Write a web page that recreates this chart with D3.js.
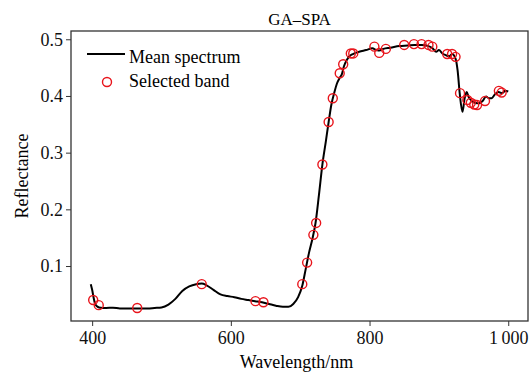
<!DOCTYPE html>
<html>
<head>
<meta charset="utf-8">
<script src="https://cdn.jsdelivr.net/npm/d3@7"></script>
<style>
  body { margin: 0; background: #fff; }
  svg { display: block; font-family: "Liberation Serif", "DejaVu Serif", serif; }
</style>
</head>
<body>
<svg width="529" height="372"></svg>
<script>
// mean spectrum (wavelength nm, reflectance)
const wavelengths = [398, 400, 402, 404, 407, 410, 420, 430, 440, 450, 460, 470, 480, 490, 500,
  510, 520, 530, 540, 550, 558, 565, 575, 585, 595, 605, 615, 625, 635, 645, 655, 665, 675, 683,
  690, 697, 703, 708, 713, 718, 722, 727, 732, 737, 741, 745, 749, 753, 757, 760, 763, 767, 771,
  776, 785, 795, 804, 810, 814, 820, 830, 843, 855, 865, 875, 885, 891, 896, 900, 905, 910, 915,
  919, 924, 927, 930, 934, 937, 940, 943, 947, 952, 958, 963, 968, 972, 976, 981, 986, 991, 996, 1000];
const reflectance = [0.068, 0.058, 0.045, 0.034, 0.029, 0.027, 0.026, 0.0265, 0.025, 0.025, 0.025,
  0.025, 0.025, 0.026, 0.027, 0.032, 0.042, 0.056, 0.064, 0.068, 0.069, 0.066, 0.058, 0.050, 0.047,
  0.045, 0.042, 0.040, 0.038, 0.036, 0.033, 0.030, 0.028, 0.028, 0.033, 0.045, 0.065, 0.095, 0.125,
  0.150, 0.175, 0.225, 0.279, 0.320, 0.354, 0.385, 0.405, 0.422, 0.432, 0.438, 0.452, 0.463, 0.470,
  0.474, 0.478, 0.481, 0.484, 0.481, 0.480, 0.483, 0.485, 0.488, 0.489, 0.490, 0.490, 0.488, 0.484,
  0.478, 0.481, 0.475, 0.472, 0.470, 0.474, 0.466, 0.445, 0.405, 0.372, 0.395, 0.407, 0.398, 0.392,
  0.388, 0.387, 0.391, 0.399, 0.396, 0.396, 0.403, 0.407, 0.405, 0.409, 0.408];

// bands picked by GA-SPA
const bandWl = [401.5, 409.5, 465, 558, 635.5, 647, 703, 710, 719, 723, 732, 741, 747, 757, 762,
  773, 776.5, 807, 814, 823.5, 850, 864, 875, 885, 890.5, 912, 919, 924, 930.5, 941, 946, 951,
  955, 966.5, 986.5, 990.5];
const bandR = [0.040, 0.031, 0.026, 0.068, 0.038, 0.036, 0.068, 0.106, 0.155, 0.176, 0.279, 0.354,
  0.396, 0.440, 0.456, 0.475, 0.475, 0.487, 0.476, 0.483, 0.490, 0.4915, 0.4915, 0.490, 0.487,
  0.474, 0.474, 0.469, 0.405, 0.393, 0.388, 0.385, 0.384, 0.391, 0.409, 0.406];

const xTicks = [400, 600, 800, 1000];
const yTicks = [0.1, 0.2, 0.3, 0.4, 0.5];

const margin = {top: 31, right: 1, bottom: 51, left: 71},
    width = 529 - margin.left - margin.right,
    height = 372 - margin.top - margin.bottom;

const svg = d3.select("svg");
const g = svg.append("g")
    .attr("transform", "translate(" + margin.left + "," + margin.top + ")");

const x = d3.scaleLinear().domain([369.5, 1028.5]).range([0, width]);
const y = d3.scaleLinear().domain([0.003, 0.5146]).range([height, 0]);

// axes
const xAxis = g.append("g")
    .attr("transform", "translate(0," + height + ")")
    .call(d3.axisBottom(x).tickValues(xTicks).tickSize(5).tickSizeOuter(0)
      .tickFormat(d => d >= 1000 ? d3.format(",")(d).replace(",", "\u2009") : d));
const yAxis = g.append("g")
    .call(d3.axisLeft(y).tickValues(yTicks).tickSize(5).tickSizeOuter(0)
      .tickFormat(d3.format(".1f")));

[xAxis, yAxis].forEach(a => {
  a.select(".domain").remove();
  a.selectAll("line").attr("stroke", "#333");
  a.selectAll("text").style("font-size", "18px").attr("fill", "#111")
    .style("font-family", "'Liberation Serif', serif");
});
xAxis.selectAll("text").attr("y", 9).attr("dy", "0.8em");
yAxis.selectAll("text").attr("x", -8);

// frame
g.append("rect")
    .attr("width", width)
    .attr("height", height)
    .attr("fill", "none")
    .attr("stroke", "#333")
    .attr("stroke-width", 1.3);

// spectrum line
const line = d3.line()
    .x((d, i) => x(wavelengths[i]))
    .y(d => y(d))
    .curve(d3.curveMonotoneX);

g.append("path")
    .datum(reflectance)
    .attr("d", line)
    .attr("fill", "none")
    .attr("stroke", "#000")
    .attr("stroke-width", 2);

// selected bands
g.selectAll(".band")
    .data(bandWl)
    .enter().append("circle")
    .attr("class", "band")
    .attr("cx", d => x(d))
    .attr("cy", (d, i) => y(bandR[i]))
    .attr("r", 4.5)
    .attr("fill", "none")
    .attr("stroke", "#e8141b")
    .attr("stroke-width", 1.4);

// title + labels
svg.append("text")
    .attr("x", margin.left + width / 2)
    .attr("y", 25)
    .attr("text-anchor", "middle")
    .style("font-size", "17px")
    .text("GA\u2013SPA");

svg.append("text")
    .attr("x", margin.left + width / 2 - 3)
    .attr("y", 368)
    .attr("text-anchor", "middle")
    .style("font-size", "18px")
    .text("Wavelength/nm");

svg.append("text")
    .attr("transform", "translate(28," + (margin.top + height / 2) + ")rotate(-90)")
    .attr("text-anchor", "middle")
    .style("font-size", "18px")
    .text("Reflectance");

// legend
const legend = svg.append("g");
legend.append("line")
    .attr("x1", 87).attr("x2", 125)
    .attr("y1", 54).attr("y2", 54)
    .attr("stroke", "#000")
    .attr("stroke-width", 2);
legend.append("text")
    .attr("x", 129).attr("y", 63)
    .style("font-size", "18px")
    .text("Mean spectrum");
legend.append("circle")
    .attr("cx", 107).attr("cy", 82)
    .attr("r", 4.5)
    .attr("fill", "none")
    .attr("stroke", "#e8141b")
    .attr("stroke-width", 1.4);
legend.append("text")
    .attr("x", 129).attr("y", 87)
    .style("font-size", "18px")
    .text("Selected band");
</script>
</body>
</html>
